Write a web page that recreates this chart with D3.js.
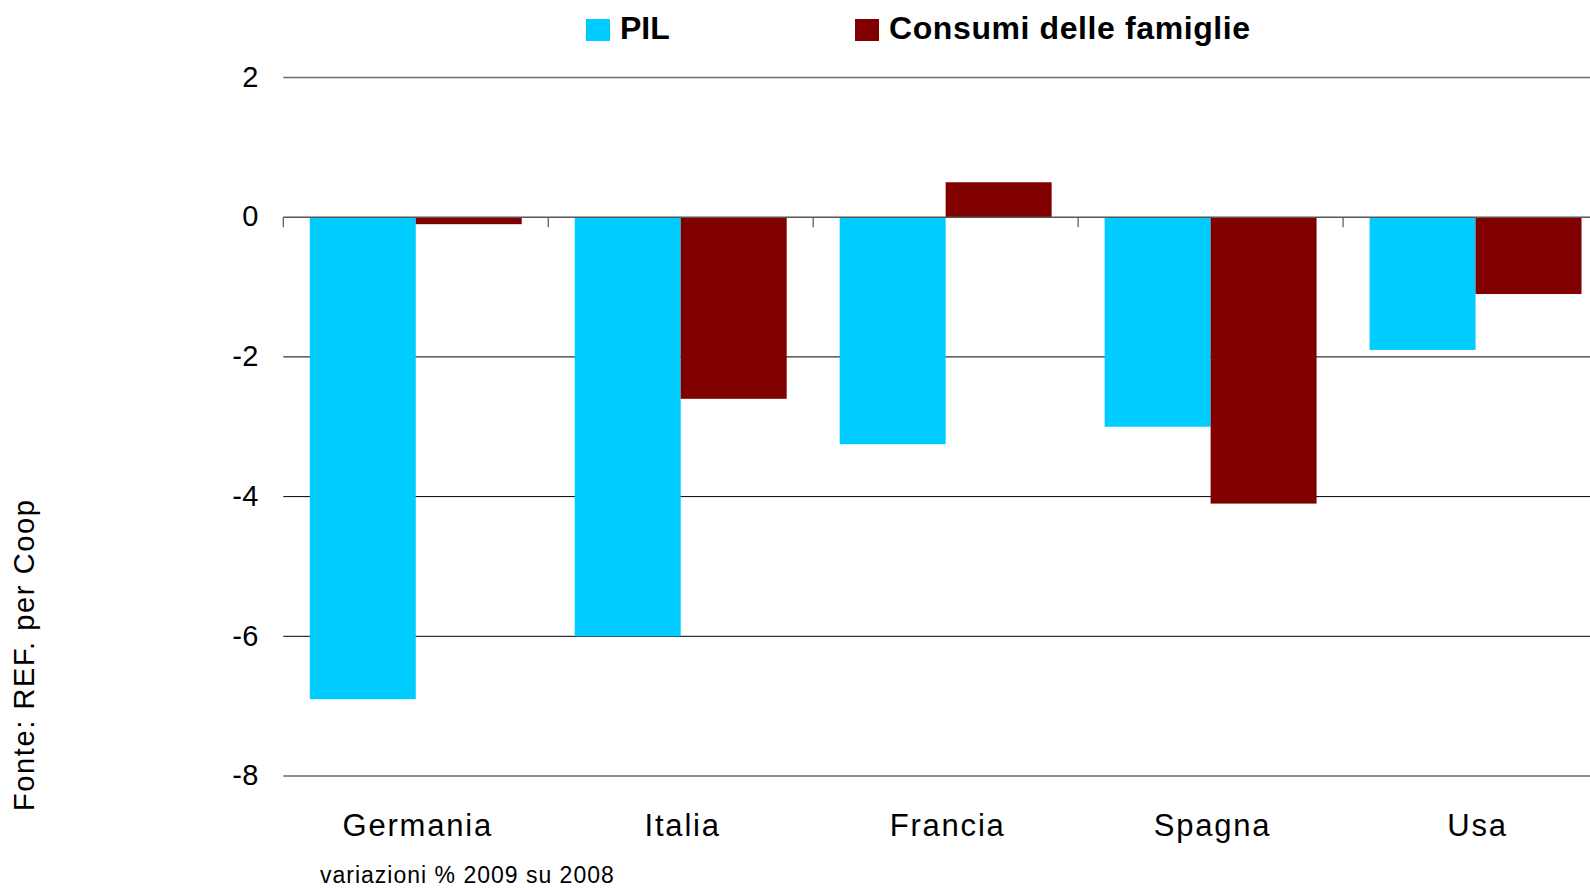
<!DOCTYPE html>
<html>
<head>
<meta charset="utf-8">
<script src="https://cdn.jsdelivr.net/npm/d3@7"></script>
<style>
  html, body { margin: 0; padding: 0; background: #fff; }
  svg { display: block; font-family: "Liberation Sans", Arial, sans-serif; }
</style>
</head>
<body>
<svg id="chart" width="1590" height="888"></svg>
<script>
const categories = ["Germania", "Italia", "Francia", "Spagna", "Usa"];
const seriesNames = ["PIL", "Consumi delle famiglie"];
const seriesColors = ["#00CCFF", "#800000"];
const pilValues = [-6.9, -6.0, -3.25, -3.0, -1.9];
const consumiValues = [-0.1, -2.6, 0.5, -4.1, -1.1];
const yTicks = [2, 0, -2, -4, -6, -8];
const yTickLabels = ["2", "0", "-2", "-4", "-6", "-8"];
const noteText = "variazioni % 2009 su 2008";
const sourceText = "Fonte: REF. per Coop";

const svg = d3.select("#chart");

const y = d3.scaleLinear().domain([-8, 2]).range([776, 77.5]);
const x = d3.scaleBand().domain(categories).range([283.3, 1608])
  .paddingInner(0.2).paddingOuter(0.1);
const x1 = d3.scaleBand().domain(seriesNames).range([0, x.bandwidth()]);

const plotLeft = 283.3, plotRight = 1608;

// gridlines
const grid = svg.append("g");
yTicks.filter(d => d !== 0).forEach(t => {
  const outer = (t === 2 || t === -8);
  grid.append("line")
    .attr("x1", plotLeft).attr("x2", plotRight)
    .attr("y1", y(t)).attr("y2", y(t))
    .attr("stroke", outer ? "#6a6a6a" : "#000")
    .attr("stroke-width", outer ? 1.6 : 1);
});

// y axis labels
const yAxis = d3.axisLeft(y).tickValues(yTicks).tickSize(0).tickPadding(0)
  .tickFormat((d, i) => yTickLabels[i]);
const yg = svg.append("g").attr("transform", "translate(259,0)").call(yAxis);
yg.select(".domain").remove();
yg.selectAll("text")
  .attr("font-size", 29).attr("font-family", "Liberation Sans, Arial, sans-serif")
  .style("letter-spacing", "0.5px")
  .attr("fill", "#000").attr("dy", "0.3em");

// bars
const data = categories.map((c, i) => ({cat: c, vals: [pilValues[i], consumiValues[i]]}));
const groups = svg.append("g").selectAll("g").data(data).join("g")
  .attr("transform", d => `translate(${x(d.cat)},0)`);
groups.selectAll("rect")
  .data(d => d.vals.map((v, j) => ({name: seriesNames[j], v, color: seriesColors[j]})))
  .join("rect")
  .attr("x", d => x1(d.name))
  .attr("width", x1.bandwidth())
  .attr("y", d => Math.min(y(0), y(d.v)))
  .attr("height", d => Math.abs(y(d.v) - y(0)))
  .attr("fill", d => d.color);

// zero axis with category boundary ticks
const axisG = svg.append("g");
axisG.append("line")
  .attr("x1", plotLeft).attr("x2", plotRight)
  .attr("y1", y(0)).attr("y2", y(0))
  .attr("stroke", "#555").attr("stroke-width", 1.5);
const halfGap = x.step() * x.paddingInner() / 2;
const boundaries = categories.map(c => x(c) - halfGap);
axisG.selectAll("line.tick").data(boundaries).join("line")
  .attr("class", "tick")
  .attr("x1", d => d).attr("x2", d => d)
  .attr("y1", y(0)).attr("y2", y(0) + 10)
  .attr("stroke", "#555").attr("stroke-width", 1.2);

// category labels
svg.append("g").selectAll("text").data(categories).join("text")
  .attr("x", d => x(d) + x.bandwidth() / 2 + 2)
  .attr("y", 836)
  .attr("text-anchor", "middle")
  .attr("font-size", 31)
  .style("letter-spacing", "1.8px")
  .attr("fill", "#000")
  .text(d => d);

// legend
const legendX = [586, 855];
const legend = svg.append("g");
seriesNames.forEach((n, i) => {
  legend.append("rect").attr("x", legendX[i]).attr("y", 19)
    .attr("width", 24).attr("height", 22).attr("fill", seriesColors[i]);
  legend.append("text").attr("x", legendX[i] + 34).attr("y", 38.5)
    .attr("font-size", 32).attr("font-weight", "bold")
    .style("letter-spacing", i === 1 ? "0.6px" : "0px")
    .attr("fill", "#000").text(n);
});

// note
svg.append("text").attr("x", 320).attr("y", 883)
  .attr("font-size", 23).style("letter-spacing", "1px")
  .attr("fill", "#000").text(noteText);

// source (vertical)
svg.append("text")
  .attr("transform", "translate(34,811) rotate(-90)")
  .attr("font-size", 29).style("letter-spacing", "1.6px")
  .attr("fill", "#000").text(sourceText);
</script>
</body>
</html>
